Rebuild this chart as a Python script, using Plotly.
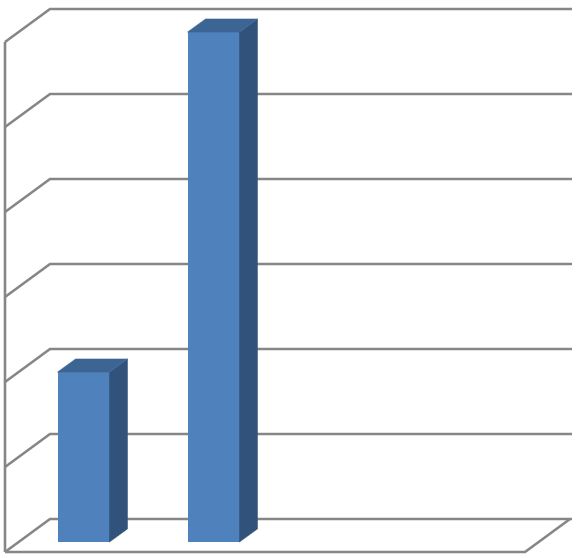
import plotly.graph_objects as go

# ---- data ----
categories = [0, 1, 2, 3]          # category slots (no labels shown)
values = [2, 6, None, None]         # column heights
grid_values = [0, 1, 2, 3, 4, 5, 6] # value-axis gridlines

# ---- 3D oblique projection settings (in axis units) ----
W, H = 578, 558
PX_PER_CAT = 130.0
PX_PER_VAL = 85.0
DEPTH_DX = 45.0 / PX_PER_CAT   # full depth shift in category units
DEPTH_DY = 33.0 / PX_PER_VAL   # full depth shift in value units
BAR_W = 0.4
D_FRONT, D_BACK = 0.3, 0.7
CMIN, CMAX = -0.5, 3.5
VMAX = max(grid_values)

def P(c, v, d):
    return c + d * DEPTH_DX, v + d * DEPTH_DY

GRID = "#868686"
FRONT = "#4F81BD"
SIDE = "#31527A"
TOP = "#3D6593"

fig = go.Figure()
shapes = []

def line(pts, width=2.6):
    path = "M " + " L ".join(f"{x},{y}" for x, y in pts)
    shapes.append(dict(type="path", path=path, xref="x", yref="y",
                       line=dict(color=GRID, width=width), layer="below"))

# back wall gridlines and left wall diagonals
for g in grid_values:
    line([P(CMIN, g, 0), P(CMIN, g, 1), P(CMAX + 0.015, g, 1)])
# left wall front vertical edge
line([P(CMIN, 0, 0), P(CMIN, VMAX, 0)])
# floor front edge and right edge
line([P(CMIN, 0, 0), P(CMAX, 0, 0), P(CMAX, 0, 1)])

# front faces as real bars
bx, by, bb = [], [], []
for c, v in zip(categories, values):
    if v is None:
        continue
    x0, y0 = P(c, 0, D_FRONT)
    bx.append(x0)
    by.append(v)
    bb.append(y0)
fig.add_trace(go.Bar(x=bx, y=by, base=bb, width=BAR_W,
                     marker=dict(color=FRONT, line=dict(width=0)),
                     hoverinfo="skip", showlegend=False))

# side and top faces
for c, v in zip(categories, values):
    if v is None:
        continue
    r = c + BAR_W / 2
    l = c - BAR_W / 2
    side = [P(r, 0, D_FRONT), P(r, 0, D_BACK), P(r, v, D_BACK), P(r, v, D_FRONT), P(r, 0, D_FRONT)]
    top = [P(l, v, D_FRONT), P(l, v, D_BACK), P(r, v, D_BACK), P(r, v, D_FRONT), P(l, v, D_FRONT)]
    for poly, col in ((side, SIDE), (top, TOP)):
        fig.add_trace(go.Scatter(x=[p[0] for p in poly], y=[p[1] for p in poly],
                                 mode="lines", fill="toself", fillcolor=col,
                                 line=dict(color=col, width=0.5),
                                 hoverinfo="skip", showlegend=False))

# axis ranges map pixel layout
x_lo = (0 - 5) / PX_PER_CAT - 0.5
x_hi = (W - 5) / PX_PER_CAT - 0.5
y_lo = (552 - H) / PX_PER_VAL
y_hi = 552 / PX_PER_VAL

fig.update_layout(
    width=W, height=H,
    margin=dict(l=0, r=0, t=0, b=0),
    paper_bgcolor="white", plot_bgcolor="white",
    xaxis=dict(range=[x_lo, x_hi], visible=False, fixedrange=True),
    yaxis=dict(range=[y_lo, y_hi], visible=False, fixedrange=True),
    bargap=0,
    shapes=shapes,
)

fig.write_html("out.html",
               config={"displayModeBar": False},
               post_script="document.body.style.margin='0px';document.body.style.padding='0px';")
